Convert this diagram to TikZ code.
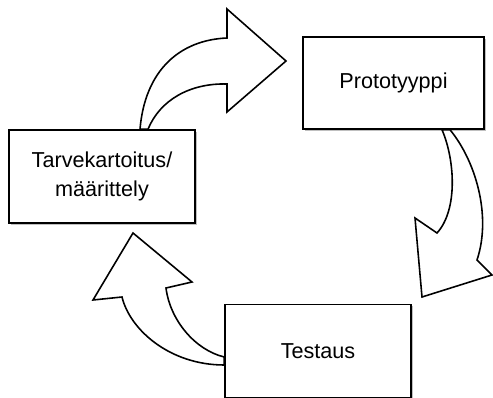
\documentclass[tikz,border=0pt]{standalone}
\usepackage{fontspec}
\setmainfont{Liberation Sans}
\usetikzlibrary{shadows}

\tikzset{
  phase/.style={draw, line width=0.9pt, fill=white, inner sep=0pt,
    minimum width=3.72cm, minimum height=1.86cm, align=center,
    font=\fontsize{12.3}{16.5}\selectfont,
    drop shadow={shadow xshift=0.9pt, shadow yshift=-0.9pt, fill=black!25, opacity=1}},
  blockarrow/.style={draw, line width=0.9pt, fill=white, line join=miter}
}

\begin{document}
\begin{tikzpicture}[x=0.02cm, y=-0.02cm]

    \useasboundingbox (0,0) rectangle (493,398);

    % Phases
    \node[phase] (tarve) at (102,176.5) {Tarvekartoitus/\\määrittely};
    \node[phase, minimum width=3.62cm, minimum height=1.84cm] (proto) at (393.5,83) {Prototyyppi};
    \node[phase] (testaus) at (318,351) {Testaus};

    % Arrow from Tarvekartoitus to Prototyyppi
    \draw[blockarrow] (140,0 |- tarve.north) .. controls (145,70) and (180,40) .. (227,38)
        -- (227,9) -- (286,61) -- (227,112) -- (227,84)
        .. controls (190,83) and (160,100) .. (148,0 |- tarve.north) -- cycle;

    % Arrow from Prototyyppi to Testaus
    \draw[blockarrow] (442,0 |- proto.south) .. controls (455,160) and (458,210) .. (437,233)
        -- (415,218) -- (422,297) -- (492,275) -- (477,260)
        .. controls (492,215) and (475,160) .. (450,0 |- proto.south) -- cycle;

    % Arrow from Testaus back to Tarvekartoitus
    \draw[blockarrow] (testaus.west |- 0,365) .. controls (170,365) and (130,330) .. (122,297)
        -- (93,300) -- (133,233) -- (192,282) -- (166,288)
        .. controls (170,320) and (195,350) .. (testaus.west |- 0,357) -- cycle;

\end{tikzpicture}
\end{document}
